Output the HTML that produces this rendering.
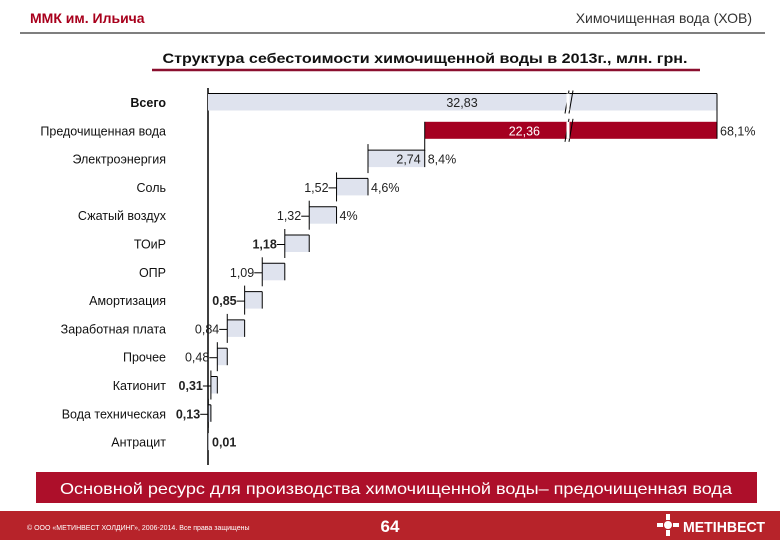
<!DOCTYPE html>
<html><head><meta charset="utf-8"><style>
html,body{margin:0;padding:0;background:#fff}
body{width:780px;height:540px;overflow:hidden;position:relative;font-family:"Liberation Sans","Noto Sans CJK SC",sans-serif}
</style></head><body>
<svg id="s" width="780" height="540" xmlns="http://www.w3.org/2000/svg" font-family="Liberation Sans, Noto Sans CJK SC, sans-serif">
<text x="30" y="23" font-size="14" fill="#a8001c" font-weight="bold">ММК им. Ильича</text>
<text x="752" y="23" font-size="14" fill="#333" text-anchor="end">Химочищенная вода (ХОВ)</text>
<line x1="20" y1="33" x2="765" y2="33" stroke="#555" stroke-width="1.5"/>
<text x="425" y="63" font-size="13.5" font-weight="bold" fill="#111" text-anchor="middle" textLength="525" lengthAdjust="spacingAndGlyphs">Структура себестоимости химочищенной воды в 2013г., млн. грн.</text>
<line x1="152" y1="70" x2="700" y2="70" stroke="#8a0f2e" stroke-width="2.5"/>
<g id="chart"></g>
<rect x="36" y="472" width="721" height="31" fill="#ad0f2a"/>
<text x="396" y="494" font-size="16" fill="#fff" text-anchor="middle" textLength="672" lengthAdjust="spacingAndGlyphs">Основной ресурс для производства химочищенной воды– предочищенная вода</text>
<rect x="0" y="511" width="780" height="29" fill="#b7232a"/>
<text x="27" y="530" font-size="7" fill="#fff">© ООО «МЕТИНВЕСТ ХОЛДИНГ», 2006-2014. Все права защищены</text>
<text x="390" y="532" font-size="17" fill="#fff" font-weight="bold" text-anchor="middle">64</text>
<text x="683" y="532" font-size="15" fill="#fff" font-weight="bold" textLength="82" lengthAdjust="spacingAndGlyphs">МЕТІНВЕСТ</text>
<g fill="#fff"><circle cx="668" cy="525" r="4"/><rect x="666" y="514" width="4" height="6"/><rect x="666" y="530" width="4" height="6"/><rect x="657" y="523" width="6" height="4"/><rect x="673" y="523" width="6" height="4"/></g>
</svg>
<script>
const categories=["Всего","Предочищенная вода","Электроэнергия","Соль","Сжатый воздух","ТОиР","ОПР","Амортизация","Заработная плата","Прочее","Катионит","Вода техническая","Антрацит"];
const values=[32.83,22.36,2.74,1.52,1.32,1.18,1.09,0.85,0.84,0.48,0.31,0.13,0.01];
const valueLabels=["32,83","22,36","2,74","1,52","1,32","1,18","1,09","0,85","0,84","0,48","0,31","0,13","0,01"];
const shareLabels=["","68,1%","8,4%","4,6%","4%","","","","","","","",""];
const boldLabels=[true,false,false,false,false,true,false,true,false,false,true,true,true];
const NS="http://www.w3.org/2000/svg";
const g=document.getElementById('chart');
const x0=208,xEnd=717,scale=20.7,rowY0=102,rowStep=28.3,bh=17;
function rowY(i){return rowY0+i*rowStep;}
function el(t,a,p){const e=document.createElementNS(NS,t);for(const k in a)e.setAttribute(k,a[k]);(p||g).appendChild(e);return e;}
const ax=el('line',{x1:x0,y1:88,x2:x0,y2:465,stroke:'#000','stroke-width':1.5});


const rest=values[0]-values[1];
let cum=rest;
function sx(v){return x0+v*scale;}
for(let i=0;i<categories.length;i++){
  const y=rowY(i);
  const lab=el('text',{x:166,y:y+5,'font-size':12.5,'text-anchor':'end',fill:'#111','font-weight':i===0?'bold':'normal'});
  lab.textContent=categories[i];
  
  
  let left,right,fill='#dfe3ee';
  if(i===0){left=x0;right=xEnd;}
  else if(i===1){left=sx(rest);right=xEnd;fill='#a50021';}
  else{right=sx(cum);cum-=values[i];left=sx(cum);}
  const r=el('rect',{x:left,y:y-bh/2,width:Math.max(right-left,0.5),height:bh,fill:fill});
  
  
  if(i===0){el('line',{x1:left,y1:y-bh/2,x2:right,y2:y-bh/2,stroke:'#000','stroke-width':1});el('line',{x1:right,y1:y-bh/2,x2:right,y2:y+bh/2+10,stroke:'#000'});}
  else if(i===1){el('line',{x1:left,y1:y-bh/2,x2:left,y2:y+bh/2+12,stroke:'#000'});el('line',{x1:right,y1:y-bh/2-4,x2:right,y2:y+bh/2,stroke:'#000'});}
  else if(i<12){
    el('line',{x1:left,y1:y-bh/2-6,x2:left,y2:y+bh/2+6,stroke:'#000'});
    el('line',{x1:left,y1:y-bh/2,x2:right,y2:y-bh/2,stroke:'#000'});
    el('line',{x1:right,y1:y-bh/2,x2:right,y2:y+bh/2,stroke:'#000'});
  }
  if(i<2){
    const t=el('text',{x:i===0?462:540,y:y+5,'font-size':12.5,'text-anchor':i===0?'middle':'end',fill:i===0?'#222':'#fff'});
    t.textContent=valueLabels[i];
    
    
    el('path',{d:`M${565},${y+bh/2+3} L${569},${y-bh/2-3} M${569},${y+bh/2+3} L${573},${y-bh/2-3}`,stroke:'#000',fill:'none'});
    el('rect',{x:566.5,y:y-bh/2,width:3,height:bh,fill:'#fff'});
  } else if(i===2){
    const t=el('text',{x:right-4,y:y+5,'font-size':12.5,'text-anchor':'end',fill:'#222'});
    t.textContent=valueLabels[i];
    
    
  } else if(i<12){
    el('line',{x1:left-8,y1:y+1,x2:left,y2:y+1,stroke:'#000'});
    const t=el('text',{x:left-8,y:y+5,'font-size':12.5,'text-anchor':'end',fill:'#222','font-weight':boldLabels[i]?'bold':'normal'});
    t.textContent=valueLabels[i];
    
    
  } else {
    const t=el('text',{x:x0+4,y:y+5,'font-size':12.5,fill:'#222','font-weight':'bold'});
    t.textContent=valueLabels[i];
    
    
  }
  if(shareLabels[i]){
    const p=el('text',{x:right+3,y:y+5,'font-size':12.5,fill:'#222'});
    p.textContent=shareLabels[i];
    
    
  }
}
</script>
</body></html>
